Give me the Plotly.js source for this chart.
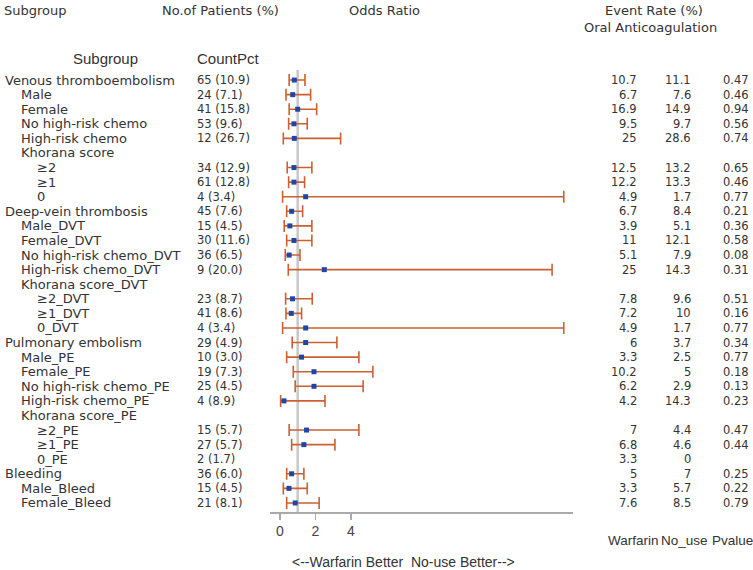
<!DOCTYPE html>
<html>
<head>
<meta charset="utf-8">
<script src="https://cdn.plot.ly/plotly-3.0.1.min.js"></script>
<style>html,body{margin:0;padding:0;background:#fff;}#chart{width:753px;height:570px;}</style>
</head>
<body>
<div id="chart"></div>
<script>
// ---- data ----
var subgroups = ["Venous thromboembolism","Male","Female","No high-risk chemo","High-risk chemo","Khorana score","≥2","≥1","0",
  "Deep-vein thrombosis","Male_DVT","Female_DVT","No high-risk chemo_DVT","High-risk chemo_DVT","Khorana score_DVT","≥2_DVT","≥1_DVT","0_DVT",
  "Pulmonary embolism","Male_PE","Female_PE","No high-risk chemo_PE","High-risk chemo_PE","Khorana score_PE","≥2_PE","≥1_PE","0_PE",
  "Bleeding","Male_Bleed","Female_Bleed"];
var levels = [0,1,1,1,1,1,2,2,2, 0,1,1,1,1,1,2,2,2, 0,1,1,1,1,1,2,2,2, 0,1,1];
var counts = [65,24,41,53,12,null,34,61,4, 45,15,30,36,9,null,23,41,4, 29,10,19,25,4,null,15,27,2, 36,15,21];
var pcts   = [10.9,7.1,15.8,9.6,26.7,null,12.9,12.8,3.4, 7.6,4.5,11.6,6.5,20.0,null,8.7,8.6,3.4, 4.9,3.0,7.3,4.5,8.9,null,5.7,5.7,1.7, 6.0,4.5,8.1];
var warfarin = [10.7,6.7,16.9,9.5,25,null,12.5,12.2,4.9, 6.7,3.9,11,5.1,25,null,7.8,7.2,4.9, 6,3.3,10.2,6.2,4.2,null,7,6.8,3.3, 5,3.3,7.6];
var noUse    = [11.1,7.6,14.9,9.7,28.6,null,13.2,13.3,1.7, 8.4,5.1,12.1,7.9,14.3,null,9.6,10,1.7, 3.7,2.5,5,2.9,14.3,null,4.4,4.6,0, 7,5.7,8.5];
var pvalues  = [0.47,0.46,0.94,0.56,0.74,null,0.65,0.46,0.77, 0.21,0.36,0.58,0.08,0.31,null,0.51,0.16,0.77, 0.34,0.77,0.18,0.13,0.23,null,0.47,0.44,null, 0.25,0.22,0.79];
var oddsRatio = [0.81,0.72,1.00,0.79,0.81,null,0.79,0.79,1.45, 0.66,0.56,0.79,0.52,2.50,null,0.71,0.64,1.45, 1.45,1.22,1.92,1.92,0.23,null,1.50,1.35,null, 0.66,0.51,0.86];
var ciLower   = [0.52,0.34,0.52,0.49,0.19,null,0.41,0.49,0.15, 0.38,0.24,0.38,0.30,0.47,null,0.32,0.34,0.15, 0.69,0.38,0.75,0.86,0.04,null,0.52,0.66,null, 0.38,0.19,0.38];
var ciUpper   = [1.41,1.73,2.07,1.54,3.42,null,1.80,1.39,16.0, 1.28,1.80,1.80,1.13,15.34,null,1.82,1.22,16.0, 3.21,4.45,5.24,4.69,2.54,null,4.45,3.10,null, 1.35,1.54,2.21];
var xTicks = [0,2,4];

// ---- layout helpers (pixel -> paper) ----
var L = 270, R = 573, T = 70, B = 512, W = 753, H = 570;
function px(x){ return (x - L) / (R - L); }
function py(y){ return (B - y) / (B - T); }

var rows = subgroups.map(function(_, i){ return i + 1; });
var txtFont = {family: "DejaVu Sans, Verdana, sans-serif", size: 13, color: "#333"};
var numFont = {family: "DejaVu Sans, Verdana, sans-serif", size: 11.5, color: "#333"};
var arialFont = {family: "Liberation Sans, Arial, sans-serif", size: 15, color: "#333"};
var smallArial = {family: "Liberation Sans, Arial, sans-serif", size: 13.5, color: "#333"};

var ann = [];
function add(text, x, y, xanchor, font, yref){
  ann.push({text: text, x: x, y: y, xref: "paper", yref: yref || "paper", xanchor: xanchor, yanchor: "middle",
            showarrow: false, font: font});
}
var indentPx = [3, 19, 35];
rows.forEach(function(r, i){
  add(subgroups[i], px(indentPx[levels[i]]), r, "left", txtFont, "y");
  if (counts[i] !== null) add(counts[i] + " (" + pcts[i].toFixed(1) + ")", px(195), r, "left", numFont, "y");
  if (warfarin[i] !== null) add(String(warfarin[i]), px(639), r, "right", numFont, "y");
  if (noUse[i] !== null) add(String(noUse[i]), px(693), r, "right", numFont, "y");
  if (pvalues[i] !== null) add(pvalues[i].toFixed(2), px(751), r, "right", numFont, "y");
});
// headers
add("Subgroup", px(2), py(10), "left", txtFont);
add("No.of Patients (%)", px(220), py(10), "center", txtFont);
add("Odds Ratio", px(384), py(10), "center", txtFont);
add("Event Rate (%)", px(654), py(10), "center", txtFont);
add("Oral Anticoagulation", px(650), py(28), "center", txtFont);
add("Subgroup", px(105), py(58), "center", arialFont);
add("CountPct", px(195), py(58), "left", arialFont);
add("Warfarin", px(633), py(540), "center", smallArial);
add("No_use", px(684), py(540), "center", smallArial);
add("Pvalue", px(732), py(540), "center", smallArial);
add("&lt;--Warfarin Better  No-use Better--&gt;", px(403), py(562), "center", {family: arialFont.family, size: 14, color: "#333"});

var trace = {
  type: "scatter", mode: "markers",
  x: oddsRatio, y: rows,
  marker: {symbol: "square", size: 5, color: "#1f45a6"},
  error_x: {
    type: "data", symmetric: false,
    array: oddsRatio.map(function(v, i){ return v === null ? null : ciUpper[i] - v; }),
    arrayminus: oddsRatio.map(function(v, i){ return v === null ? null : v - ciLower[i]; }),
    color: "#cc6030", thickness: 1.6, width: 6
  },
  hoverinfo: "x+y", showlegend: false, cliponaxis: false
};

var layout = {
  width: W, height: H,
  margin: {l: L, r: W - R, t: T, b: H - B, pad: 0},
  paper_bgcolor: "#fff", plot_bgcolor: "#fff",
  xaxis: {range: [-0.56, 16.52], tickvals: xTicks, ticktext: xTicks.map(String),
          showgrid: false, zeroline: false, showline: true, linecolor: "#aaa", linewidth: 1.5,
          ticks: "outside", ticklen: 6, tickcolor: "#aaa", tickwidth: 1.5,
          tickfont: {family: "Liberation Sans, Arial, sans-serif", size: 14, color: "#444"}, fixedrange: true},
  yaxis: {range: [30.62, 0.31], visible: false, showgrid: false, zeroline: false, fixedrange: true},
  shapes: [{type: "line", xref: "x", yref: "paper", x0: 1, x1: 1, y0: 0, y1: 1,
            line: {color: "#c8c8c8", width: 2.5}, layer: "below"}],
  annotations: ann
};
Plotly.newPlot("chart", [trace], layout, {displayModeBar: false, staticPlot: true});
</script>
</body>
</html>
